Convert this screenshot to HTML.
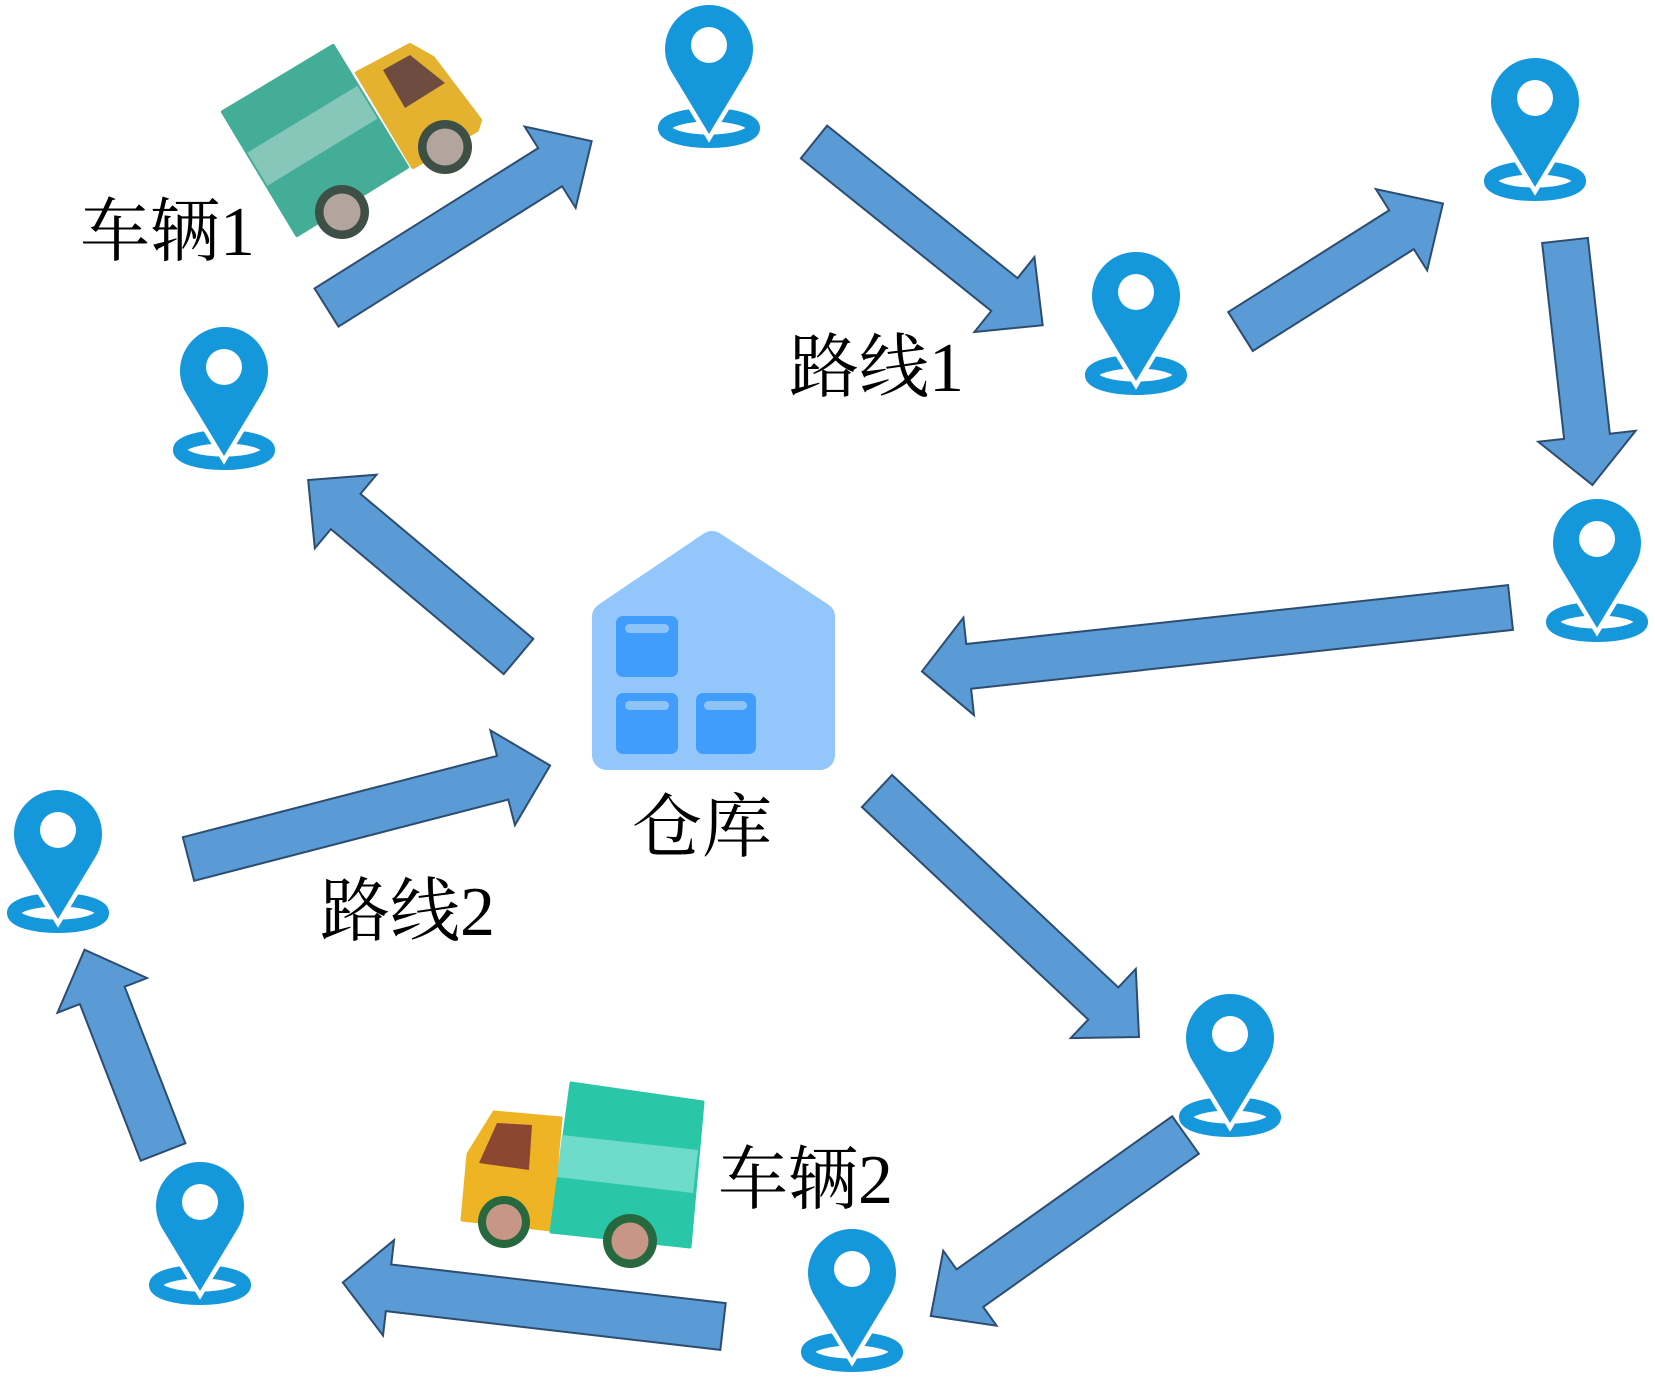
<!DOCTYPE html>
<html>
<head>
<meta charset="utf-8">
<style>
  html,body{margin:0;padding:0;background:#ffffff;}
  svg{display:block;}
  .lbl{font-family:"Liberation Serif","Noto Serif CJK SC","Noto Sans CJK SC",serif;font-size:70px;fill:#000;}
</style>
</head>
<body>
<svg width="1655" height="1378" viewBox="0 0 1655 1378" xmlns="http://www.w3.org/2000/svg">
  <rect width="1655" height="1378" fill="#ffffff"/>

  <!-- Arrows -->
  <g fill="#5B9BD5" stroke="#2C4D70" stroke-width="2" stroke-linejoin="miter">
    <g transform="translate(326.5,307.5) rotate(-32.1)"><polygon points="0,-22.5 264,-22.5 264,-48 313,0 264,48 264,22.5 0,22.5"/></g>
    <g transform="translate(814,142) rotate(38.7)"><polygon points="0,-21 244,-21 244,-48 293,0 244,48 244,21 0,21"/></g>
    <g transform="translate(1240.5,331.5) rotate(-32.3)"><polygon points="0,-23 190.5,-23 190.5,-48 239.5,0 190.5,48 190.5,23 0,23"/></g>
    <g transform="translate(1565,240.5) rotate(83.6)"><polygon points="0,-23 197,-23 197,-49 246,0 197,49 197,23 0,23"/></g>
    <g transform="translate(1510.5,607.5) rotate(173.8)"><polygon points="0,-22.5 545,-22.5 545,-49 592,0 545,49 545,22.5 0,22.5"/></g>
    <g transform="translate(518.5,656.5) rotate(-140)"><polygon points="0,-23 225.6,-23 225.6,-48 274.6,0 225.6,48 225.6,23 0,23"/></g>
    <g transform="translate(188.5,859) rotate(-14.5)"><polygon points="0,-22.5 324.5,-22.5 324.5,-49 373.5,0 324.5,49 324.5,22.5 0,22.5"/></g>
    <g transform="translate(877,791) rotate(43.2)"><polygon points="0,-22 310.4,-22 310.4,-47.5 359.4,0 310.4,47.5 310.4,22 0,22"/></g>
    <g transform="translate(1185.5,1135) rotate(144.6)"><polygon points="0,-23 264.5,-23 264.5,-46 312.5,0 264.5,46 264.5,23 0,23"/></g>
    <g transform="translate(723,1326.5) rotate(186.6)"><polygon points="0,-23.5 336.7,-23.5 336.7,-48 382.7,0 336.7,48 336.7,23.5 0,23.5"/></g>
    <g transform="translate(163,1152) rotate(-111.2)"><polygon points="0,-24 168,-24 168,-48 217,0 168,48 168,24 0,24"/></g>
  </g>

  <!-- Truck 1 -->
  <g stroke-linejoin="round">
    <polygon points="357,73 410,45 433,58 480,120 477,130 413,167" fill="#E5B22F" stroke="#E5B22F" stroke-width="4"/>
    <polygon points="383,70 410,55 445,83 405,108" fill="#6E4D40"/>
    <polygon points="223,112 333,46 407,167 297,235" fill="#44AD98" stroke="#44AD98" stroke-width="4"/>
    <polygon points="247.4,152.6 357.4,85.9 377.4,118.6 267.4,185.8" fill="#87C7BA"/>
    <circle cx="342" cy="212" r="27" fill="#3E5046"/>
    <circle cx="342" cy="212" r="18.5" fill="#B3A49E"/>
    <circle cx="445" cy="147" r="27" fill="#3E5046"/>
    <circle cx="445" cy="147" r="18.5" fill="#B3A49E"/>
  </g>

  <!-- Truck 2 -->
  <g stroke-linejoin="round">
    <polygon points="494,1112 561,1118 551,1230 462,1220 468,1154" fill="#EFB424" stroke="#EFB424" stroke-width="3"/>
    <polygon points="497,1123 532,1125 529,1170 479,1163" fill="#8B4731"/>
    <polygon points="571,1083 703,1102 690,1247 551,1232" fill="#2AC6A8" stroke="#2AC6A8" stroke-width="3"/>
    <polygon points="562,1135 698,1150 693,1193 557,1177" fill="#6EDBCB"/>
    <circle cx="504" cy="1222" r="26" fill="#27683F"/>
    <circle cx="504" cy="1222" r="18" fill="#C79686"/>
    <circle cx="630" cy="1241" r="27" fill="#27683F"/>
    <circle cx="630" cy="1241" r="18.5" fill="#C79686"/>
  </g>

  <!-- Warehouse -->
  <g>
    <polygon points="712,546 607,617 607,755 820,755 820,617" fill="#93C6FA" stroke="#93C6FA" stroke-width="30" stroke-linejoin="round"/>
    <rect x="616" y="616" width="62" height="61" rx="7" fill="#409DFB"/>
    <rect x="625" y="624" width="44" height="9" rx="4.5" fill="#8EC3F8"/>
    <rect x="616" y="693" width="62" height="61" rx="7" fill="#409DFB"/>
    <rect x="625" y="701" width="44" height="9" rx="4.5" fill="#8EC3F8"/>
    <rect x="696" y="693" width="60" height="61" rx="7" fill="#409DFB"/>
    <rect x="704" y="701" width="43" height="9" rx="4.5" fill="#8EC3F8"/>
  </g>

  <!-- Pins -->
  <g fill="#1597DB">
    <g transform="translate(709,5)">
      <ellipse cx="0" cy="123" rx="44.3" ry="13.3" fill="none" stroke="#1597DB" stroke-width="13.5"/>
      <path d="M-37.6,66.8 A44,44 0 1 1 37.6,66.8 L0,129 Z" stroke="#ffffff" stroke-width="9" paint-order="stroke"/>
      <circle cx="0" cy="40" r="18" fill="#ffffff"/>
    </g>
    <g transform="translate(224,327)">
      <ellipse cx="0" cy="123" rx="44.3" ry="13.3" fill="none" stroke="#1597DB" stroke-width="13.5"/>
      <path d="M-37.6,66.8 A44,44 0 1 1 37.6,66.8 L0,129 Z" stroke="#ffffff" stroke-width="9" paint-order="stroke"/>
      <circle cx="0" cy="40" r="18" fill="#ffffff"/>
    </g>
    <g transform="translate(1136,252)">
      <ellipse cx="0" cy="123" rx="44.3" ry="13.3" fill="none" stroke="#1597DB" stroke-width="13.5"/>
      <path d="M-37.6,66.8 A44,44 0 1 1 37.6,66.8 L0,129 Z" stroke="#ffffff" stroke-width="9" paint-order="stroke"/>
      <circle cx="0" cy="40" r="18" fill="#ffffff"/>
    </g>
    <g transform="translate(1535,58)">
      <ellipse cx="0" cy="123" rx="44.3" ry="13.3" fill="none" stroke="#1597DB" stroke-width="13.5"/>
      <path d="M-37.6,66.8 A44,44 0 1 1 37.6,66.8 L0,129 Z" stroke="#ffffff" stroke-width="9" paint-order="stroke"/>
      <circle cx="0" cy="40" r="18" fill="#ffffff"/>
    </g>
    <g transform="translate(1597,499)">
      <ellipse cx="0" cy="123" rx="44.3" ry="13.3" fill="none" stroke="#1597DB" stroke-width="13.5"/>
      <path d="M-37.6,66.8 A44,44 0 1 1 37.6,66.8 L0,129 Z" stroke="#ffffff" stroke-width="9" paint-order="stroke"/>
      <circle cx="0" cy="40" r="18" fill="#ffffff"/>
    </g>
    <g transform="translate(58,790)">
      <ellipse cx="0" cy="123" rx="44.3" ry="13.3" fill="none" stroke="#1597DB" stroke-width="13.5"/>
      <path d="M-37.6,66.8 A44,44 0 1 1 37.6,66.8 L0,129 Z" stroke="#ffffff" stroke-width="9" paint-order="stroke"/>
      <circle cx="0" cy="40" r="18" fill="#ffffff"/>
    </g>
    <g transform="translate(200,1162)">
      <ellipse cx="0" cy="123" rx="44.3" ry="13.3" fill="none" stroke="#1597DB" stroke-width="13.5"/>
      <path d="M-37.6,66.8 A44,44 0 1 1 37.6,66.8 L0,129 Z" stroke="#ffffff" stroke-width="9" paint-order="stroke"/>
      <circle cx="0" cy="40" r="18" fill="#ffffff"/>
    </g>
    <g transform="translate(852,1229)">
      <ellipse cx="0" cy="123" rx="44.3" ry="13.3" fill="none" stroke="#1597DB" stroke-width="13.5"/>
      <path d="M-37.6,66.8 A44,44 0 1 1 37.6,66.8 L0,129 Z" stroke="#ffffff" stroke-width="9" paint-order="stroke"/>
      <circle cx="0" cy="40" r="18" fill="#ffffff"/>
    </g>
    <g transform="translate(1230,994)">
      <ellipse cx="0" cy="123" rx="44.3" ry="13.3" fill="none" stroke="#1597DB" stroke-width="13.5"/>
      <path d="M-37.6,66.8 A44,44 0 1 1 37.6,66.8 L0,129 Z" stroke="#ffffff" stroke-width="9" paint-order="stroke"/>
      <circle cx="0" cy="40" r="18" fill="#ffffff"/>
    </g>
  </g>

  <!-- Labels -->
  <text class="lbl" x="80" y="255">车辆1</text>
  <text class="lbl" x="789" y="391">路线1</text>
  <text class="lbl" x="632" y="851">仓库</text>
  <text class="lbl" x="320" y="935">路线2</text>
  <text class="lbl" x="718" y="1203">车辆2</text>
</svg>
</body>
</html>
